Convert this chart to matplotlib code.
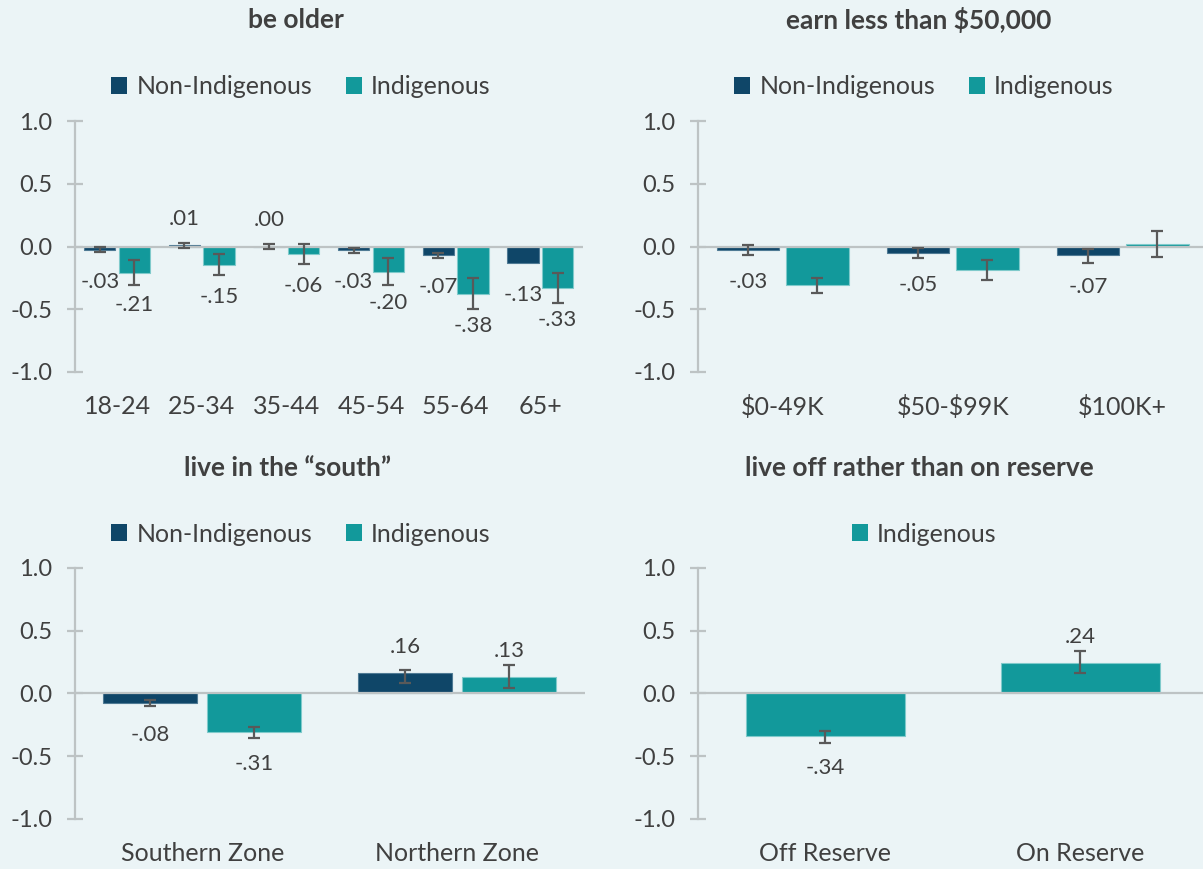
import numpy as np
import matplotlib
matplotlib.use("Agg")
import matplotlib.pyplot as plt
from matplotlib.patches import Patch

plt.rcParams['font.family'] = ['Lato', 'DejaVu Sans']

# ---- data ----------------------------------------------------------------
age_groups = ["18-24", "25-34", "35-44", "45-54", "55-64", "65+"]
age_non_ind = [-0.03, 0.01, 0.00, -0.03, -0.07, -0.13]
age_ind = [-0.21, -0.15, -0.06, -0.20, -0.38, -0.33]
age_non_ind_lo = [-0.045, -0.01, -0.02, -0.048, -0.088, np.nan]
age_non_ind_hi = [-0.005, 0.03, 0.02, -0.013, -0.048, np.nan]
age_ind_lo = [-0.306, -0.23, -0.14, -0.306, -0.50, -0.448]
age_ind_hi = [-0.106, -0.06, 0.02, -0.09, -0.248, -0.208]

income_groups = ["$0-49K", "$50-$99K", "$100K+"]
income_non_ind = [-0.03, -0.05, -0.07]
income_ind = [-0.31, -0.19, 0.02]
income_non_ind_lo = [-0.07, -0.09, -0.13]
income_non_ind_hi = [0.01, -0.01, -0.02]
income_ind_lo = [-0.37, -0.27, -0.08]
income_ind_hi = [-0.25, -0.11, 0.12]

zones = ["Southern Zone", "Northern Zone"]
zone_non_ind = [-0.08, 0.16]
zone_ind = [-0.31, 0.13]
zone_non_ind_lo = [-0.10, 0.08]
zone_non_ind_hi = [-0.05, 0.19]
zone_ind_lo = [-0.36, 0.04]
zone_ind_hi = [-0.27, 0.23]

reserve = ["Off Reserve", "On Reserve"]
reserve_ind = [-0.34, 0.24]
reserve_ind_lo = [-0.40, 0.16]
reserve_ind_hi = [-0.30, 0.34]

y_ticks = [-1.0, -0.5, 0.0, 0.5, 1.0]
y_tick_labels = ["-1.0", "-0.5", "0.0", "0.5", "1.0"]

titles = ["be older", "earn less than $50,000",
          "live in the \u201csouth\u201d", "live off rather than on reserve"]

# ---- style ---------------------------------------------------------------
BG = "#EBF4F6"
NAVY = "#0F4668"
TEAL = "#12999B"
TEXT = "#404040"
AXIS = "#BDC3C4"
ERR = "#595959"

W, H = 1203, 869
fig = plt.figure(figsize=(W / 100, H / 100), dpi=100, facecolor=BG)


def fig_rect(x0, x1, ytop, ybot):
    return [x0 / W, 1 - ybot / H, (x1 - x0) / W, (ybot - ytop) / H]


def fmt(v):
    s = f"{v:.2f}"
    return s.replace("0.", ".", 1)


def esc(s):
    return s.replace("$", r"\$")


def draw_panel(ax, cats, series):
    n = len(series)
    x = np.arange(len(cats))
    if n == 2:
        width, offsets = 0.37, [-0.204, 0.204]
    else:
        width, offsets = 0.625, [0.0]
    for (vals, lo, hi, color, edge, labelled), off in zip(series, offsets):
        vals = np.asarray(vals, float)
        lo = np.asarray(lo, float)
        hi = np.asarray(hi, float)
        xs = x + off
        ax.bar(xs, vals, width, color=color, edgecolor=edge, linewidth=0.8, zorder=2)
        ok = np.isfinite(lo) & np.isfinite(hi)
        ax.errorbar(xs[ok], vals[ok], yerr=[vals[ok] - lo[ok], hi[ok] - vals[ok]],
                    fmt="none", ecolor=ERR, elinewidth=1.6, capsize=4.5,
                    capthick=1.6, zorder=4)
        if labelled:
            for xi, v in zip(xs, vals):
                dy = -23 if v < 0 else 19
                ax.annotate(fmt(v), (xi, v), xytext=(0, dy), textcoords="offset points",
                            ha="center", va="center", fontsize=16, color=TEXT)
    ax.axhline(0, color=AXIS, lw=1.6, zorder=3)
    ax.set_xlim(-0.5, len(cats) - 0.5)
    ax.set_ylim(-1, 1)
    ax.set_yticks(y_ticks)
    ax.set_yticklabels(y_tick_labels)
    ax.set_xticks(x)
    ax.set_xticklabels([esc(c) for c in cats])
    ax.set_facecolor("none")
    for s in ("top", "right", "bottom"):
        ax.spines[s].set_visible(False)
    ax.spines["left"].set_color(AXIS)
    ax.spines["left"].set_linewidth(1.6)
    ax.tick_params(axis="y", direction="inout", length=12, width=1.6, color=AXIS,
                   labelsize=17, labelcolor=TEXT, pad=10)
    ax.tick_params(axis="x", length=0, labelsize=18, labelcolor=TEXT, pad=17)


ax1 = fig.add_axes(fig_rect(74.7, 582.6, 121.3, 371.7))
ax2 = fig.add_axes(fig_rect(697.7, 1207.7, 121.3, 371.7))
ax3 = fig.add_axes(fig_rect(74.7, 584.7, 568, 818.7))
ax4 = fig.add_axes(fig_rect(697.7, 1207.7, 568, 818.7))

draw_panel(ax1, age_groups, [
    (age_non_ind, age_non_ind_lo, age_non_ind_hi, NAVY, "#4F7A94", True),
    (age_ind, age_ind_lo, age_ind_hi, TEAL, "#7FCACB", True)])
draw_panel(ax2, income_groups, [
    (income_non_ind, income_non_ind_lo, income_non_ind_hi, NAVY, "#4F7A94", True),
    (income_ind, income_ind_lo, income_ind_hi, TEAL, "#7FCACB", False)])
draw_panel(ax3, zones, [
    (zone_non_ind, zone_non_ind_lo, zone_non_ind_hi, NAVY, "#4F7A94", True),
    (zone_ind, zone_ind_lo, zone_ind_hi, TEAL, "#7FCACB", True)])
draw_panel(ax4, reserve, [
    (reserve_ind, reserve_ind_lo, reserve_ind_hi, TEAL, "#7FCACB", True)])

# titles
for t, (cx, cy) in zip(titles, [(296, 20), (919, 20), (288, 468), (919, 468)]):
    fig.text(cx / W, 1 - cy / H, t, ha="center", va="center", fontsize=19,
             fontweight="bold", color=TEXT)

# legends
both = [Patch(facecolor=NAVY), Patch(facecolor=TEAL)]
only_ind = [Patch(facecolor=TEAL)]
for handles, names, (cx, cy) in [
        (both, ["Non-Indigenous", "Indigenous"], (301, 87)),
        (both, ["Non-Indigenous", "Indigenous"], (924, 87)),
        (both, ["Non-Indigenous", "Indigenous"], (301, 534)),
        (only_ind, ["Indigenous"], (924, 534))]:
    fig.legend(handles, names, loc="center", bbox_to_anchor=(cx / W, 1 - cy / H),
               ncol=len(names), frameon=False, fontsize=18, labelcolor=TEXT,
               handlelength=0.64, handleheight=0.64, handletextpad=0.36,
               columnspacing=1.35, borderpad=0, borderaxespad=0)

fig.savefig("out.png", dpi=100, facecolor=BG)
